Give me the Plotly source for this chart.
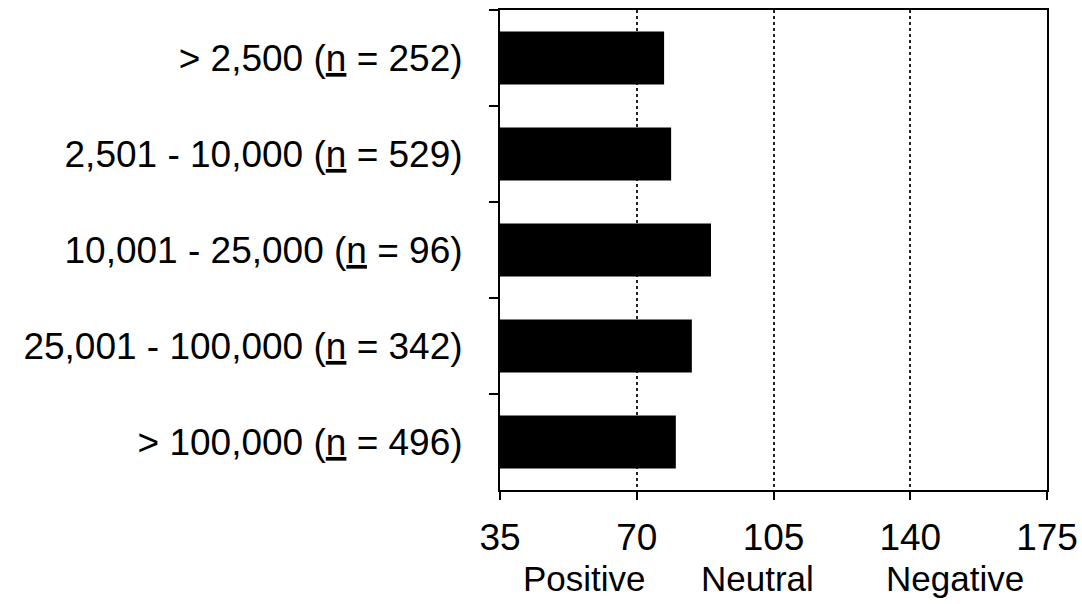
import plotly.graph_objects as go

categories = [
    "> 2,500 (<u>n</u> = 252)",
    "2,501 - 10,000 (<u>n</u> = 529)",
    "10,001 - 25,000 (<u>n</u> = 96)",
    "25,001 - 100,000 (<u>n</u> = 342)",
    "> 100,000 (<u>n</u> = 496)",
]
values = [77.0, 78.8, 89.0, 84.1, 80.0]
x_ticks = [35, 70, 105, 140, 175]
x_tick_labels = ["35", "70", "105", "140", "175"]
scale_labels = ["Positive", "Neutral", "Negative"]
scale_label_pos = [56.5, 101, 151.5]

FONT = "Arial, Liberation Sans, Helvetica, sans-serif"

fig = go.Figure()
fig.add_trace(go.Bar(
    x=values,
    y=categories,
    orientation="h",
    marker=dict(color="black", line=dict(width=0)),
    width=0.55,
    hoverinfo="skip",
))

for lbl, pos in zip(scale_labels, scale_label_pos):
    fig.add_annotation(
        x=pos, xref="x", y=-0.185, yref="paper",
        text=lbl, showarrow=False,
        xanchor="center", yanchor="middle",
        font=dict(family=FONT, size=35, color="black"),
    )

fig.update_layout(
    width=1082, height=604,
    margin=dict(l=500, r=35, t=10, b=114, autoexpand=False),
    paper_bgcolor="white", plot_bgcolor="white",
    showlegend=False,
    bargap=0.45,
)
fig.update_xaxes(
    range=[35, 175],
    tickvals=x_ticks, ticktext=x_tick_labels,
    showline=True, linecolor="black", linewidth=2, mirror=True,
    ticks="outside", ticklen=8, tickwidth=1.5, tickcolor="black",
    showgrid=True, gridcolor="#222222", gridwidth=1.5, griddash="dot",
    zeroline=False,
    tickfont=dict(family=FONT, size=37, color="black"),
    ticklabelstandoff=6,
    automargin=False,
)
fig.update_yaxes(
    autorange="reversed",
    categoryorder="array", categoryarray=categories,
    showline=True, linecolor="black", linewidth=2, mirror=True,
    ticks="outside", ticklen=9, tickwidth=1.5, tickcolor="black",
    tickson="boundaries",
    showgrid=False,
    tickfont=dict(family=FONT, size=37, color="black"),
    ticklabelstandoff=28,
    automargin=False,
)

fig.write_html(
    "out.html",
    config={"displayModeBar": False},
    post_script="document.body.style.margin='0';document.body.style.overflow='hidden';",
)
